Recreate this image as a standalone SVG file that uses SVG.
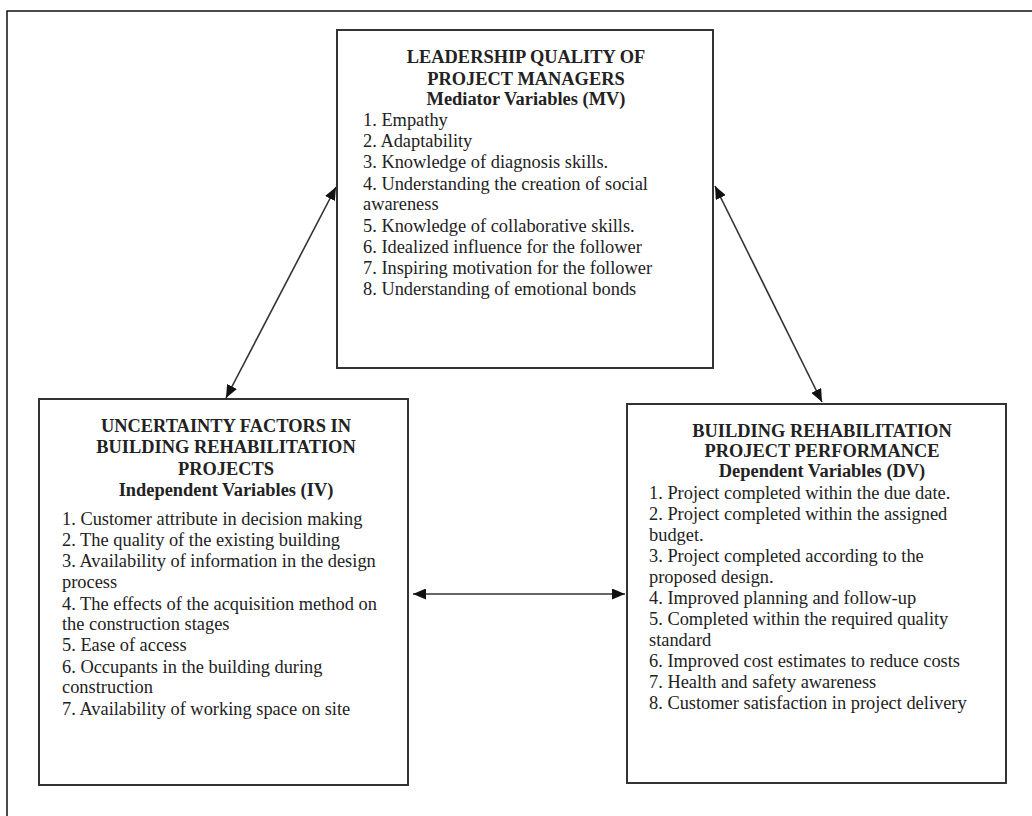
<svg xmlns="http://www.w3.org/2000/svg" width="1032" height="816" viewBox="0 0 1032 816">
<style>
.box{fill:#fff;stroke:#333;stroke-width:2}
.t{font-family:"Liberation Serif","Times New Roman",serif;font-size:18.4px;fill:#222}
.h{font-weight:bold;text-anchor:middle}
.c{stroke:#333;stroke-width:1.6;fill:none}
</style>
<defs>
<marker id="ah" viewBox="0 0 13 11" refX="13" refY="5.5" markerWidth="13" markerHeight="11" markerUnits="userSpaceOnUse" orient="auto-start-reverse">
<path d="M0,0 L13,5.5 L0,11 z" fill="#111"/>
</marker>
</defs>
<rect width="1032" height="816" fill="#fff"/>
<rect x="7" y="11" width="1040" height="830" fill="none" stroke="#111" stroke-width="1.5"/>
<g id="mv">
<rect class="box" x="337" y="30" width="376" height="338"/>
<text class="t h" x="526" y="63">LEADERSHIP QUALITY OF</text>
<text class="t h" x="526" y="85">PROJECT MANAGERS</text>
<text class="t h" x="526" y="105">Mediator Variables (MV)</text>
<text class="t" x="363" y="126">1. Empathy</text>
<text class="t" x="363" y="147">2. Adaptability</text>
<text class="t" x="363" y="168">3. Knowledge of diagnosis skills.</text>
<text class="t" x="363" y="190">4. Understanding the creation of social</text>
<text class="t" x="363" y="210">awareness</text>
<text class="t" x="363" y="232">5. Knowledge of collaborative skills.</text>
<text class="t" x="363" y="253">6. Idealized influence for the follower</text>
<text class="t" x="363" y="274">7. Inspiring motivation for the follower</text>
<text class="t" x="363" y="295">8. Understanding of emotional bonds</text>
</g>
<g id="iv">
<rect class="box" x="39" y="399" width="369" height="386"/>
<text class="t h" x="226" y="432">UNCERTAINTY FACTORS IN</text>
<text class="t h" x="226" y="453">BUILDING REHABILITATION</text>
<text class="t h" x="226" y="475">PROJECTS</text>
<text class="t h" x="226" y="496">Independent Variables (IV)</text>
<text class="t" x="62" y="525">1. Customer attribute in decision making</text>
<text class="t" x="62" y="546">2. The quality of the existing building</text>
<text class="t" x="62" y="567">3. Availability of information in the design</text>
<text class="t" x="62" y="588">process</text>
<text class="t" x="62" y="610">4. The effects of the acquisition method on</text>
<text class="t" x="62" y="630">the construction stages</text>
<text class="t" x="62" y="651">5. Ease of access</text>
<text class="t" x="62" y="673">6. Occupants in the building during</text>
<text class="t" x="62" y="693">construction</text>
<text class="t" x="62" y="715">7. Availability of working space on site</text>
</g>
<g id="dv">
<rect class="box" x="627" y="404" width="379" height="379"/>
<text class="t h" x="822" y="437">BUILDING REHABILITATION</text>
<text class="t h" x="822" y="457">PROJECT PERFORMANCE</text>
<text class="t h" x="822" y="477">Dependent Variables (DV)</text>
<text class="t" x="649" y="499">1. Project completed within the due date.</text>
<text class="t" x="649" y="520">2. Project completed within the assigned</text>
<text class="t" x="649" y="541">budget.</text>
<text class="t" x="649" y="562">3. Project completed according to the</text>
<text class="t" x="649" y="583">proposed design.</text>
<text class="t" x="649" y="604">4. Improved planning and follow-up</text>
<text class="t" x="649" y="625">5. Completed within the required quality</text>
<text class="t" x="649" y="646">standard</text>
<text class="t" x="649" y="667">6. Improved cost estimates to reduce costs</text>
<text class="t" x="649" y="688">7. Health and safety awareness</text>
<text class="t" x="649" y="709">8. Customer satisfaction in project delivery</text>
</g>
<g id="connectors">
<line class="c" x1="336" y1="187" x2="226" y2="398" marker-start="url(#ah)" marker-end="url(#ah)"/>
<line class="c" x1="715" y1="186" x2="822" y2="402" marker-start="url(#ah)" marker-end="url(#ah)"/>
<line class="c" x1="413" y1="594" x2="625" y2="594" marker-start="url(#ah)" marker-end="url(#ah)"/>
</g>
</svg>
